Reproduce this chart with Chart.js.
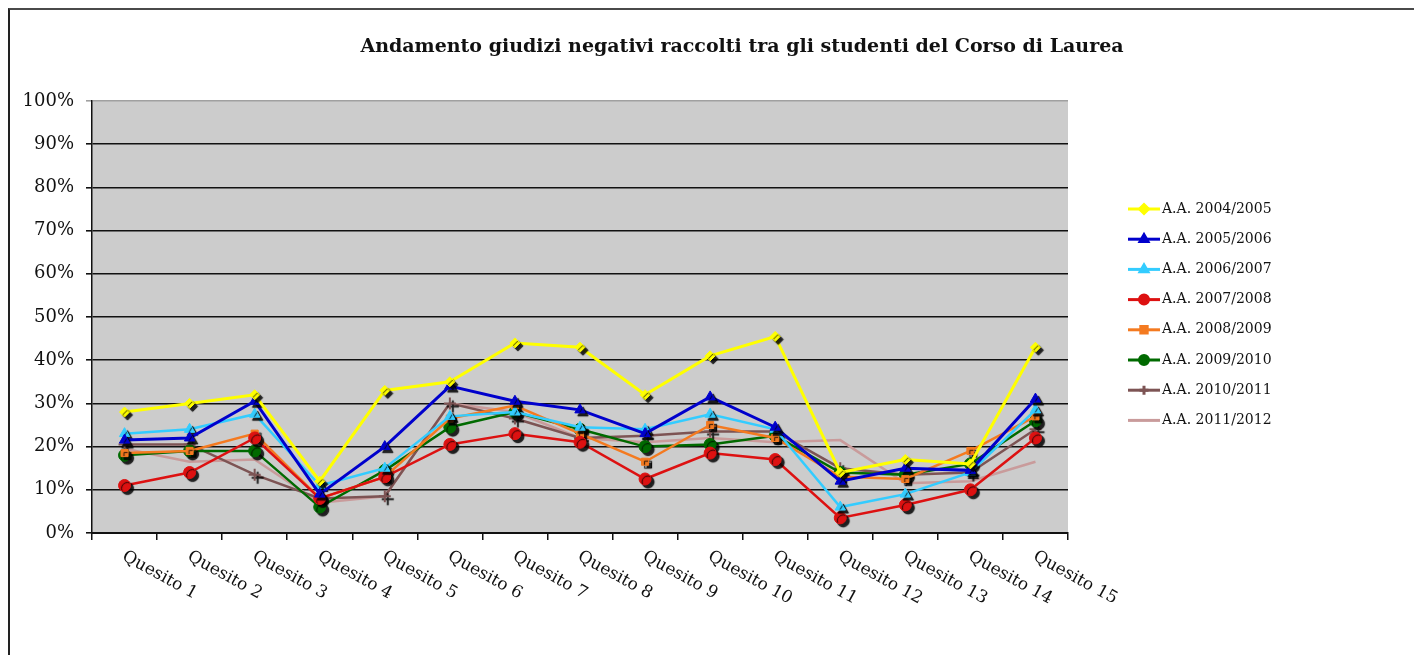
<!DOCTYPE html>
<html>
<head>
<meta charset="utf-8">
<script src="https://cdn.jsdelivr.net/npm/chart.js@4/dist/chart.umd.min.js"></script>
<style>
    html, body { margin: 0; padding: 0; background: #fff; }
    #wrap { position: relative; width: 1414px; height: 655px; overflow: hidden; }
    #frame { position: absolute; left: 8px; top: 8px; right: 0; bottom: 0; border-top: 2px solid #4a4a4a; border-left: 2px solid #222; }
    canvas { position: absolute; left: 0; top: 0; }
</style>
</head>
<body>
<div id="wrap">
    <div id="frame"></div>
    <canvas id="giudiziChart" width="1414" height="655"></canvas>
</div>
<script>
const TITLE = 'Andamento giudizi negativi raccolti tra gli studenti del Corso di Laurea';
const categories = ['Quesito 1', 'Quesito 2', 'Quesito 3', 'Quesito 4', 'Quesito 5', 'Quesito 6', 'Quesito 7', 'Quesito 8',
    'Quesito 9', 'Quesito 10', 'Quesito 11', 'Quesito 12', 'Quesito 13', 'Quesito 14', 'Quesito 15'];
const seriesNames = ['A.A. 2004/2005', 'A.A. 2005/2006', 'A.A. 2006/2007', 'A.A. 2007/2008',
    'A.A. 2008/2009', 'A.A. 2009/2010', 'A.A. 2010/2011', 'A.A. 2011/2012'];

// percent values per academic year
const aa0405 = [28, 30, 32, 12, 33, 35, 44, 43, 32, 41, 45.5, 14, 17, 16, 43];
const aa0506 = [21.5, 22, 30.5, 9, 20, 34, 30.5, 28.5, 23, 31.5, 24.5, 12, 15, 14.5, 31];
const aa0607 = [23, 24, 27.5, 11, 15, 27, 28, 24.5, 24, 27.5, 24, 6, 9, 14, 28.5];
const aa0708 = [11, 14, 22, 8, 13, 20.5, 23, 21, 12.5, 18.5, 17, 3.5, 6.5, 10, 22];
const aa0809 = [18.5, 19, 23, 8, 13, 26.5, 29.5, 23, 16.5, 25, 22, 13, 12.5, 19, 27];
const aa0910 = [18, 19, 19, 6, 14.5, 24.5, 28, 24, 20, 20.5, 22.5, 14, 13.5, 16, 26];
const aa1011 = [20.5, 20.5, 13.5, 8, 8.5, 30, 26.5, 22, 22.5, 23.5, 23.5, 15, 13.5, 14, 24];
const aa1112 = [19.5, 16.5, 17, 7, 8.5, 30, 28, 22, 21, 22, 21, 21.5, 11.5, 12, 16.5];
const yTicks = [0, 10, 20, 30, 40, 50, 60, 70, 80, 90, 100];

const seriesData = [aa0405, aa0506, aa0607, aa0708, aa0809, aa0910, aa1011, aa1112];
const colors = ['#FFFF00', '#0000CC', '#33CCFF', '#DD1111', '#F47A20', '#006A00', '#7D5454', '#C99B9B'];
const markers = ['rectRot', 'triangle', 'triangle', 'circle', 'rect', 'circle', 'cross', false];
const markerSize = [5, 6, 6, 6, 5, 6, 6, 0];

// excel-like drop shadow under markers
const PE = Chart.PointElement || (Chart.elements && Chart.elements.PointElement);
if (PE) {
    const origDraw = PE.prototype.draw;
    PE.prototype.draw = function (ctx, area) {
        ctx.save();
        ctx.shadowColor = 'rgba(0,0,0,0.85)';
        ctx.shadowOffsetX = 3;
        ctx.shadowOffsetY = 3;
        ctx.shadowBlur = 1;
        origDraw.call(this, ctx, area);
        ctx.restore();
    };
}

const plotBackground = {
    id: 'plotBackground',
    beforeDraw(chart) {
        const { ctx, chartArea } = chart;
        ctx.save();
        ctx.fillStyle = '#cccccc';
        ctx.fillRect(chartArea.left, chartArea.top, chartArea.right - chartArea.left, chartArea.bottom - chartArea.top);
        ctx.restore();
    }
};

const decorations = {
    id: 'decorations',
    afterDraw(chart) {
        const ctx = chart.ctx;
        const xs = chart.scales.x;

        // title
        ctx.save();
        ctx.fillStyle = '#111';
        ctx.font = 'bold 19px "DejaVu Serif"';
        ctx.textAlign = 'center';
        ctx.textBaseline = 'middle';
        ctx.fillText(TITLE, 742, 47);
        ctx.restore();

        // slanted category labels
        ctx.save();
        ctx.fillStyle = '#111';
        ctx.font = '17px "DejaVu Serif"';
        ctx.textAlign = 'left';
        ctx.textBaseline = 'top';
        categories.forEach((lab, i) => {
            const px = xs.getPixelForValue(i);
            ctx.save();
            ctx.translate(px + 3, xs.top + 15);
            ctx.rotate(0.5);
            ctx.fillText(lab, 0, 0);
            ctx.restore();
        });
        ctx.restore();

        // legend
        const lx = 1128, ly = 209, step = 30.2;
        chart.data.datasets.forEach((ds, i) => {
            const y = ly + i * step;
            ctx.save();
            ctx.strokeStyle = ds.borderColor;
            ctx.lineWidth = 3;
            ctx.beginPath();
            ctx.moveTo(lx, y);
            ctx.lineTo(lx + 32, y);
            ctx.stroke();
            if (ds.pointStyle) {
                ctx.fillStyle = ds.borderColor;
                ctx.strokeStyle = ds.borderColor;
                Chart.helpers.drawPoint(ctx, { pointStyle: ds.pointStyle, radius: 4.5, borderWidth: 1.5, rotation: 0 }, lx + 16, y);
            }
            ctx.fillStyle = '#111';
            ctx.font = '14px "DejaVu Serif"';
            ctx.textAlign = 'left';
            ctx.textBaseline = 'middle';
            ctx.fillText(ds.label, lx + 34, y);
            ctx.restore();
        });
    }
};

new Chart(document.getElementById('giudiziChart'), {
    type: 'line',
    data: {
        labels: categories,
        datasets: seriesData.map((vals, i) => ({
            label: seriesNames[i],
            data: vals,
            borderColor: colors[i],
            backgroundColor: colors[i],
            pointBackgroundColor: colors[i],
            pointBorderColor: colors[i],
            borderWidth: i < 2 ? 3 : 2.5,
            pointStyle: markers[i],
            pointRadius: markerSize[i],
            pointBorderWidth: markers[i] === 'cross' ? 2 : 1,
            tension: 0,
            fill: false
        }))
    },
    options: {
        responsive: false,
        animation: false,
        events: [],
        layout: { padding: { top: 101, right: 346, left: 0, bottom: 0 } },
        plugins: {
            legend: { display: false },
            title: { display: false },
            tooltip: { enabled: false }
        },
        scales: {
            x: {
                offset: true,
                grid: { offset: true, drawOnChartArea: false, drawTicks: true, tickLength: 7, color: '#111', lineWidth: 1.5 },
                border: { color: '#111', width: 2 },
                ticks: { color: 'rgba(0,0,0,0)', maxRotation: 0, autoSkip: false },
                afterFit: s => { s.height = 122; }
            },
            y: {
                min: 0,
                max: 100,
                afterBuildTicks: s => { s.ticks = yTicks.map(v => ({ value: v })); },
                ticks: { callback: v => v + '%', color: '#111', font: { family: 'DejaVu Serif', size: 18 }, padding: 12 },
                grid: { color: c => (c.tick && c.tick.value === 100 ? '#a0a0a0' : '#111'), lineWidth: 1.6, tickLength: 6 },
                border: { color: '#111', width: 1.5 },
                afterFit: s => { s.width = 92; }
            }
        }
    },
    plugins: [plotBackground, decorations]
});
</script>
</body>
</html>
